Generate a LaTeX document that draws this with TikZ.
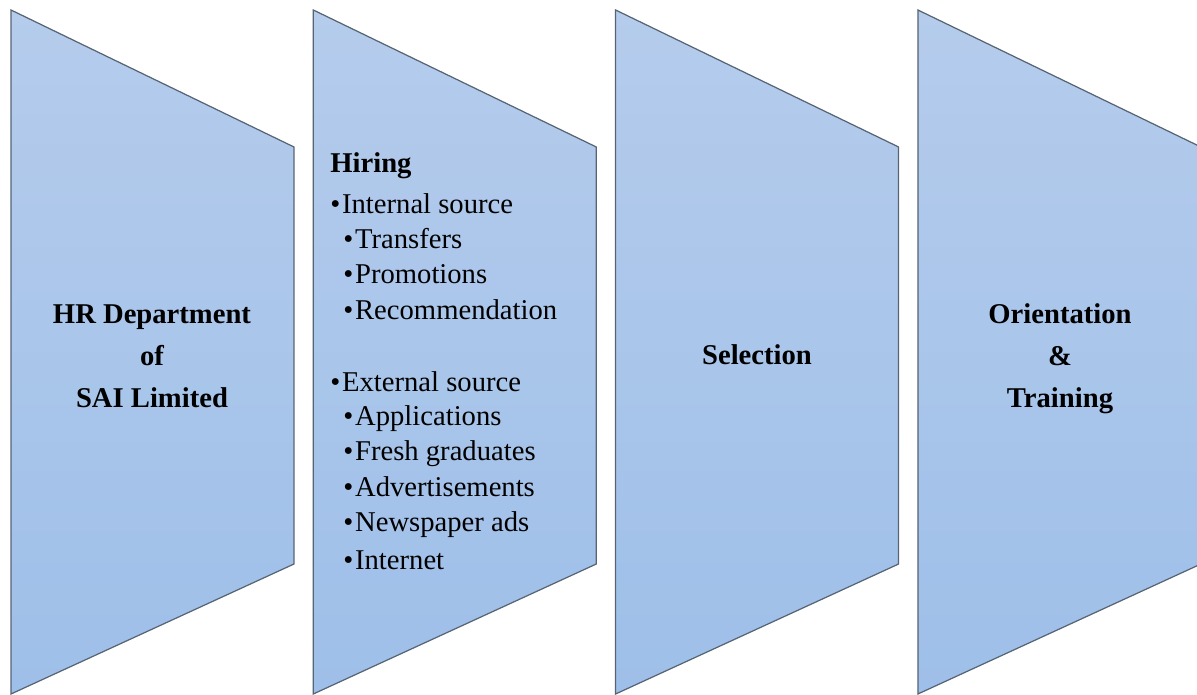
\documentclass[tikz,border=0pt]{standalone}
\usepackage{fontspec}
\setmainfont{Liberation Serif}

\definecolor{stagetop}{RGB}{181,204,236}
\definecolor{stagebot}{RGB}{158,191,233}
\definecolor{stageline}{RGB}{86,100,116}

\begin{document}
\begin{tikzpicture}[x=0.02cm,y=-0.02cm,
    stage/.style={draw=stageline,line width=0.7pt,line join=miter,
                  top color=stagetop,bottom color=stagebot},
    title/.style={font=\fontsize{16.3}{23.8}\selectfont\bfseries,align=center},
    head/.style={font=\fontsize{16.3}{20}\selectfont\bfseries,anchor=base west,inner sep=0pt},
    item/.style={font=\fontsize{16.3}{20}\selectfont,anchor=base west,inner sep=0pt}]

  \useasboundingbox (0,0) rectangle (1197,695);

  % the four stages, left edge tall, right edge short
  \foreach \s in {0,...,3}
    \path[stage] ({11+302.3*\s},10) -- ({294+302.3*\s},147)
      -- ({294+302.3*\s},564) -- ({11+302.3*\s},694) -- cycle;

  \node[title] (hr) at (152,356) {HR Department\\of\\SAI Limited};

  \node[head] (hiring) at (330,173) {Hiring};
  \node[item] (internal) at (330,214) {\textbullet\kern1pt Internal source};
  \foreach \y/\t [count=\i] in {249/Transfers,284/Promotions,320/Recommendation}
    \node[item] (int\i) at (343,\y) {\textbullet\kern1pt\t};
  \node[item] (external) at (330,392) {\textbullet\kern1pt External source};
  \foreach \y/\t [count=\i] in {426/Applications,461/Fresh graduates,
                                497/Advertisements,532/Newspaper ads,570/Internet}
    \node[item] (ext\i) at (343,\y) {\textbullet\kern1pt\t};

  \node[title,anchor=base] (selection) at (757,365) {Selection};

  \node[title] (orient) at (1060,359) {Orientation\\\&\\Training};
\end{tikzpicture}
\end{document}
